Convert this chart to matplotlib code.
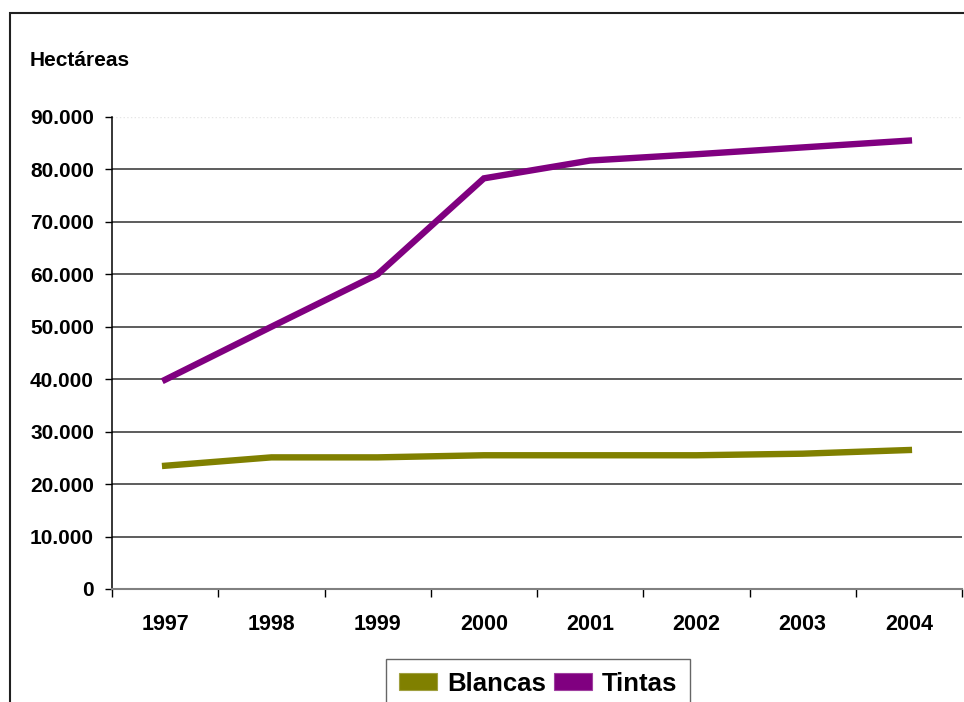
import matplotlib
matplotlib.use("Agg")
import matplotlib.pyplot as plt
from matplotlib.patches import Patch, Rectangle
from matplotlib.ticker import FuncFormatter

years = ["1997", "1998", "1999", "2000", "2001", "2002", "2003", "2004"]
blancas = [23500, 25100, 25100, 25500, 25500, 25500, 25800, 26500]
tintas = [39900, 50000, 60000, 78300, 81700, 82900, 84200, 85500]
y_ticks = [0, 10000, 20000, 30000, 40000, 50000, 60000, 70000, 80000, 90000]

OLIVE = "#808000"
PURPLE = "#800080"

plt.rcParams["font.family"] = ["Liberation Sans", "DejaVu Sans"]
plt.rcParams["font.weight"] = "bold"

W, H = 964, 702
fig = plt.figure(figsize=(W / 100, H / 100), dpi=100)

# outer chart frame (only top and left visible)
fig.patches.append(Rectangle((10 / W, -0.5), 2.0, 1 - 13 / H + 0.5,
                             transform=fig.transFigure, fill=False,
                             edgecolor="#202020", linewidth=1.5))

ax = fig.add_axes([112 / W, 1 - 589 / H, (962 - 112) / W, (589 - 117) / H])

x = [i + 0.5 for i in range(len(years))]
ax.plot(x, blancas, color=OLIVE, linewidth=4.6, solid_joinstyle="miter")
ax.plot(x, tintas, color=PURPLE, linewidth=4.6, solid_joinstyle="miter")

ax.set_xlim(0, len(years))
ax.set_ylim(0, 90000)

# horizontal gridlines
for v in y_ticks[1:-1]:
    ax.axhline(v, color="#303030", linewidth=1.1, zorder=0)
ax.axhline(y_ticks[-1], color="#e6e6e6", linewidth=1, linestyle=":", zorder=0)

for s in ["top", "right"]:
    ax.spines[s].set_visible(False)
ax.spines["left"].set_color("black")
ax.spines["left"].set_linewidth(1.1)
ax.spines["bottom"].set_color("#808080")
ax.spines["bottom"].set_linewidth(1.5)

ax.set_yticks(y_ticks)
ax.yaxis.set_major_formatter(FuncFormatter(lambda v, p: f"{int(v):,}".replace(",", ".")))
ax.tick_params(axis="y", direction="out", length=5, width=1, color="black",
               labelsize=15, pad=8)

ax.set_xticks(range(len(years) + 1))
ax.set_xticklabels([])
ax.set_xticks(x, minor=True)
ax.set_xticklabels(years, minor=True)
ax.tick_params(axis="x", which="major", direction="out", length=6, width=1, color="black")
ax.tick_params(axis="x", which="minor", length=0, labelsize=15.5, pad=18)
for lbl in ax.get_yticklabels() + ax.get_xticklabels(minor=True):
    lbl.set_fontweight("bold")

fig.text(30 / W, 1 - 61 / H, "Hectáreas", fontsize=15, fontweight="bold",
         ha="left", va="center")

handles = [Patch(facecolor=OLIVE, edgecolor="#a0a040", linewidth=0.8, label="Blancas"),
           Patch(facecolor=PURPLE, edgecolor="#a040a0", linewidth=0.8, label="Tintas")]
leg = fig.legend(handles=handles, loc="upper left",
                 bbox_to_anchor=(386 / W, 1 - 659 / H), bbox_transform=fig.transFigure,
                 borderaxespad=0, ncol=2, fontsize=18.5, frameon=True, fancybox=False,
                 handlelength=1.5, handleheight=0.65, handletextpad=0.38,
                 columnspacing=0.3, borderpad=0.5)
leg.get_frame().set_edgecolor("#404040")
leg.get_frame().set_linewidth(1.0)
for t in leg.get_texts():
    t.set_fontweight("bold")

fig.savefig("out.png", dpi=100)
